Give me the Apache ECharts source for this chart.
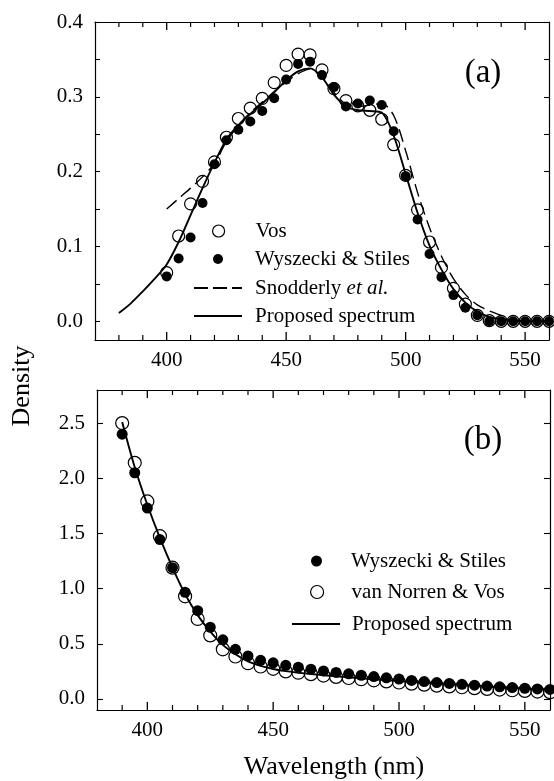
<!DOCTYPE html>
<html>
<head>
<meta charset="utf-8">
<script src="https://cdn.jsdelivr.net/npm/echarts@6/dist/echarts.min.js"></script>
<style>
  html, body { margin: 0; padding: 0; background: #fff; }
  #chart { width: 554px; height: 781px; }
</style>
</head>
<body>
<div id="chart"></div>
<script>
// ---------- Panel (a): macular pigment density ----------
const wlA = [400, 405, 410, 415, 420, 425, 430, 435, 440, 445, 450, 455, 460, 465, 470, 475, 480,
             485, 490, 495, 500, 505, 510, 515, 520, 525, 530, 535, 540, 545, 550, 555, 560];
const vosA = [0.065, 0.114, 0.157, 0.187, 0.213, 0.246, 0.271, 0.285, 0.298, 0.319, 0.342, 0.357, 0.356,
              0.336, 0.311, 0.295, 0.288, 0.282, 0.270, 0.236, 0.195, 0.149, 0.106, 0.072, 0.044, 0.023,
              0.008, 0.001, 0.000, 0.000, 0.000, 0.000, 0.000];
const wsA = [0.060, 0.084, 0.112, 0.158, 0.210, 0.242, 0.256, 0.267, 0.281, 0.298, 0.323, 0.344, 0.347,
             0.329, 0.313, 0.287, 0.291, 0.295, 0.289, 0.254, 0.194, 0.136, 0.090, 0.059, 0.035, 0.018,
             0.008, 0.000, 0.000, 0.000, 0.000, 0.000, 0.000];
const snodWlA = [400, 405, 410, 415, 420, 425, 430, 435, 440, 445, 450, 455, 460, 465, 470, 475, 480,
                 485, 490, 495, 500, 505, 510, 515, 520, 525, 530, 535, 540];
const snodA = [0.150, 0.164, 0.178, 0.193, 0.211, 0.240, 0.262, 0.279, 0.293, 0.307, 0.320, 0.331, 0.337,
               0.327, 0.306, 0.290, 0.287, 0.289, 0.291, 0.275, 0.228, 0.172, 0.125, 0.087, 0.057, 0.036,
               0.022, 0.014, 0.008];
const propWlA = [380, 385, 390, 395, 400, 405, 410, 415, 420, 425, 430, 435, 440, 445, 450, 455, 460, 465,
                 470, 475, 480, 485, 490, 495, 500, 505, 510, 515, 520, 525, 530, 535, 540, 545, 550, 555, 560];
const propA = [0.011, 0.024, 0.040, 0.057, 0.076, 0.106, 0.142, 0.178, 0.212, 0.243, 0.262, 0.277, 0.291,
               0.306, 0.322, 0.334, 0.338, 0.326, 0.303, 0.287, 0.282, 0.281, 0.279, 0.248, 0.197, 0.145,
               0.101, 0.069, 0.043, 0.025, 0.013, 0.006, 0.003, 0.001, 0.000, 0.000, 0.000];

// ---------- Panel (b): lens density ----------
const wlB = [390, 395, 400, 405, 410, 415, 420, 425, 430, 435, 440, 445, 450, 455, 460, 465, 470, 475,
             480, 485, 490, 495, 500, 505, 510, 515, 520, 525, 530, 535, 540, 545, 550, 555, 560];
const wsB = [2.40, 2.05, 1.73, 1.445, 1.19, 0.967, 0.80, 0.65, 0.536, 0.45, 0.39, 0.35, 0.328, 0.305, 0.288,
             0.27, 0.254, 0.24, 0.228, 0.215, 0.203, 0.192, 0.181, 0.168, 0.158, 0.149, 0.141, 0.133, 0.125,
             0.117, 0.11, 0.103, 0.097, 0.091, 0.086];
const vnB = [2.50, 2.14, 1.79, 1.475, 1.19, 0.93, 0.725, 0.576, 0.45, 0.385, 0.324, 0.294, 0.273, 0.25, 0.238,
             0.225, 0.212, 0.20, 0.19, 0.179, 0.169, 0.159, 0.149, 0.139, 0.13, 0.121, 0.114, 0.106, 0.098,
             0.091, 0.085, 0.079, 0.073, 0.067, 0.062];
const propB = [2.51, 2.10, 1.76, 1.46, 1.19, 0.95, 0.76, 0.61, 0.49, 0.405, 0.34, 0.30, 0.272, 0.252, 0.238,
               0.226, 0.215, 0.205, 0.196, 0.187, 0.178, 0.17, 0.162, 0.154, 0.146, 0.139, 0.132, 0.125, 0.118,
               0.112, 0.106, 0.10, 0.094, 0.088, 0.083];

// ---------- Axis ranges and ticks ----------
const xRangeA = [370, 560];
const xRangeB = [380, 560];
const xMajorTicks = [400, 450, 500, 550];
const xMinorTicksA = [380, 390, 410, 420, 430, 440, 460, 470, 480, 490, 510, 520, 530, 540];
const xMinorTicksB = [390, 410, 420, 430, 440, 460, 470, 480, 490, 510, 520, 530, 540];
// y tick slots: evenly spaced steps from the bottom of each frame to its top
const ySlotsA = ['-0.025', '0.000', '0.025', '0.050', '0.075', '0.100', '0.125', '0.150', '0.175', '0.200',
                 '0.225', '0.250', '0.275', '0.300', '0.325', '0.350', '0.375', '0.400'];
const ySlotsB = ['-0.1', '0.0', '0.1', '0.2', '0.3', '0.4', '0.5', '0.6', '0.7', '0.8', '0.9', '1.0', '1.1',
                 '1.2', '1.3', '1.4', '1.5', '1.6', '1.7', '1.8', '1.9', '2.0', '2.1', '2.2', '2.3', '2.4',
                 '2.5', '2.6', '2.7', '2.8'];
const yTickStepA = 0.05, yLabelStepA = 0.1;
const yTickStepB = 0.5, yLabelStepB = 0.5;

const FONT = "'Liberation Serif', 'Times New Roman', serif";
const zip = (xs, ys) => xs.map((x, i) => [x, ys[i]]);
const isMultiple = (v, step) => Math.abs(v / step - Math.round(v / step)) < 1e-6;
const yRangeOf = slots => [Number(slots[0]), Number(slots[slots.length - 1])];

const lineOn = () => ({ show: true, onZero: false, lineStyle: { color: '#000', width: 1.2 } });
const tickStyle = w => ({ color: '#000', width: w });

// wavelength axis: frame line + labels (ticks are drawn by the tick series below)
function xFrameAxis(grid, range, position, withLabels) {
  return {
    type: 'value', gridIndex: grid, min: range[0], max: range[1], position: position,
    splitLine: { show: false },
    axisLine: lineOn(),
    axisTick: { show: false },
    axisLabel: withLabels
      ? { show: true, customValues: xMajorTicks, margin: 10, color: '#000', fontFamily: FONT, fontSize: 21 }
      : { show: false }
  };
}

function yTickAxis(grid, slots, position, tickStep, labelStep, withLabels, tickLen) {
  const isTick = (i, v) => Number(v) >= 0 && isMultiple(Number(v), tickStep);
  const isLabel = (i, v) => Number(v) >= 0 && isMultiple(Number(v), labelStep);
  return {
    type: 'category', gridIndex: grid, data: slots, boundaryGap: false, position: position,
    splitLine: { show: false },
    axisLine: lineOn(),
    axisTick: { show: true, inside: true, length: tickLen, interval: isTick, lineStyle: tickStyle(1.1) },
    axisLabel: withLabels
      ? { show: true, interval: isLabel, margin: 12, color: '#000', fontFamily: FONT, fontSize: 21,
          formatter: v => Number(v).toFixed(1) }
      : { show: false }
  };
}

// value axes carrying the data (invisible; the frame axes draw lines and labels)
const dataX = (grid, range) => ({ type: 'value', gridIndex: grid, min: range[0], max: range[1], show: false });
const dataY = (grid, slots) => ({ type: 'value', gridIndex: grid, min: yRangeOf(slots)[0],
                                  max: yRangeOf(slots)[1], show: false });
const unitY = grid => ({ type: 'value', gridIndex: grid, min: 0, max: 1, show: false });

// grids 0/1 hold the data; grids 2/3 cover the same frames and carry the wavelength labels
const frameA = { left: 95, top: 22, width: 454, height: 318 };
const frameB = { left: 97, top: 390, width: 453, height: 320 };

const xAxes = [
  dataX(0, xRangeA),                      // 0
  dataX(1, xRangeB),                      // 1
  xFrameAxis(2, xRangeA, 'bottom', true), // 2
  xFrameAxis(2, xRangeA, 'top', false),   // 3
  xFrameAxis(3, xRangeB, 'bottom', true), // 4
  xFrameAxis(3, xRangeB, 'top', false)    // 5
];
const yAxes = [
  dataY(0, ySlotsA),                                                   // 0
  yTickAxis(0, ySlotsA, 'left', yTickStepA, yLabelStepA, true, 5),     // 1
  yTickAxis(0, ySlotsA, 'right', yTickStepA, yLabelStepA, false, 5),   // 2
  dataY(1, ySlotsB),                                                   // 3
  yTickAxis(1, ySlotsB, 'left', yTickStepB, yLabelStepB, true, 6),     // 4
  yTickAxis(1, ySlotsB, 'right', yTickStepB, yLabelStepB, false, 6),   // 5
  unitY(2),                                                            // 6
  unitY(3)                                                             // 7
];

// inward wavelength ticks on the bottom and top edges, placed through the axis scale
function wavelengthTicks(xIdx, yIdx, ticks, yRange, len, width) {
  return {
    type: 'custom', xAxisIndex: xIdx, yAxisIndex: yIdx, silent: true, clip: false, z: 6,
    data: ticks.map(v => [v, yRange[0]]),
    encode: { x: 0, y: 1 },
    renderItem: (params, api) => {
      const v = api.value(0);
      const bottom = api.coord([v, yRange[0]]);
      const top = api.coord([v, yRange[1]]);
      return {
        type: 'group',
        children: [
          { type: 'rect', shape: { x: bottom[0] - width / 2, y: bottom[1] - len, width: width, height: len },
            style: { fill: '#000' } },
          { type: 'rect', shape: { x: top[0] - width / 2, y: top[1], width: width, height: len },
            style: { fill: '#000' } }
        ]
      };
    }
  };
}

const openStyle = { color: 'rgba(0,0,0,0)', borderColor: '#000', borderWidth: 1.2, opacity: 1 };
const filledStyle = { color: '#000', borderColor: '#000', borderWidth: 0, opacity: 1 };
const lineItem = { color: '#000', opacity: 1 };

const series = [
  // panel (a)
  { name: 'Snodderly et al.', type: 'line', xAxisIndex: 0, yAxisIndex: 0, data: zip(snodWlA, snodA),
    symbol: 'none', smooth: 0.3, itemStyle: lineItem, lineStyle: { color: '#000', width: 1.4, type: [13, 6] }, z: 3 },
  { name: 'Proposed spectrum', type: 'line', xAxisIndex: 0, yAxisIndex: 0, data: zip(propWlA, propA),
    symbol: 'none', smooth: 0.3, itemStyle: lineItem, lineStyle: { color: '#000', width: 1.9 }, z: 3 },
  { name: 'Vos', type: 'scatter', xAxisIndex: 0, yAxisIndex: 0, data: zip(wlA, vosA),
    symbol: 'circle', symbolSize: 12, itemStyle: openStyle, z: 4 },
  { name: 'Wyszecki & Stiles', type: 'scatter', xAxisIndex: 0, yAxisIndex: 0, data: zip(wlA, wsA),
    symbol: 'circle', symbolSize: 10, itemStyle: filledStyle, z: 5 },
  wavelengthTicks(0, 0, xMajorTicks, yRangeOf(ySlotsA), 8, 1.3),
  wavelengthTicks(0, 0, xMinorTicksA, yRangeOf(ySlotsA), 5, 1.2),
  // panel (b)
  { name: 'Proposed spectrum ', type: 'line', xAxisIndex: 1, yAxisIndex: 3, data: zip(wlB, propB),
    symbol: 'none', smooth: 0.3, itemStyle: lineItem, lineStyle: { color: '#000', width: 1.9 }, z: 3 },
  { name: 'van Norren & Vos', type: 'scatter', xAxisIndex: 1, yAxisIndex: 3, data: zip(wlB, vnB),
    symbol: 'circle', symbolSize: 13, itemStyle: openStyle, z: 4 },
  { name: 'Wyszecki & Stiles ', type: 'scatter', xAxisIndex: 1, yAxisIndex: 3, data: zip(wlB, wsB),
    symbol: 'circle', symbolSize: 11, itemStyle: filledStyle, z: 5 },
  wavelengthTicks(1, 3, xMajorTicks, yRangeOf(ySlotsB), 8, 1.3),
  wavelengthTicks(1, 3, xMinorTicksB, yRangeOf(ySlotsB), 5, 1.2)
];

// legend icons for the two line styles (drawn as filled bars)
const SOLID_ICON = 'path://M0,0h48v2h-48z';
const DASH_ICON = 'path://M0,0h14v2h-14z M19,0h14v2h-14z M38,0h10v2h-10z';
const legendOpen = { color: 'rgba(0,0,0,0)', borderColor: '#000', borderWidth: 1.2, opacity: 1 };
const legendFilled = { color: '#000', borderColor: '#000', borderWidth: 0, opacity: 1 };

// one legend block per row so each row can be placed on its own
function legendRow(name, left, centerY, w, h, padLeft, iconStyle, icon, extra) {
  return Object.assign({
    data: [icon ? { name: name, icon: icon } : { name: name, icon: 'circle' }],
    left: left, top: centerY - 12, orient: 'vertical', padding: 0,
    itemWidth: w, itemHeight: h, selectedMode: false,
    itemStyle: iconStyle,
    textStyle: { color: '#000', fontFamily: FONT, fontSize: 21, lineHeight: 24, padding: [0, 0, 0, padLeft] }
  }, extra || {});
}

const legends = [
  legendRow('Vos', 212, 231, 12, 12, 26, legendOpen),
  legendRow('Wyszecki & Stiles', 213, 259, 10, 10, 27, legendFilled),
  legendRow('Snodderly et al.', 194, 288, 48, 2, 8, legendFilled, DASH_ICON, {
    formatter: () => '{n|Snodderly }{i|et al.}',
    textStyle: { color: '#000', fontFamily: FONT, fontSize: 21, lineHeight: 24, padding: [0, 0, 0, 8],
      rich: { n: { fontFamily: FONT, fontSize: 21, color: '#000' },
              i: { fontFamily: FONT, fontSize: 21, color: '#000', fontStyle: 'italic' } } }
  }),
  legendRow('Proposed spectrum', 194, 316, 48, 2, 8, legendFilled, SOLID_ICON),
  legendRow('Wyszecki & Stiles ', 311, 561, 11, 11, 24, legendFilled),
  legendRow('van Norren & Vos', 310, 592, 13, 13, 23, legendOpen),
  legendRow('Proposed spectrum ', 292, 624, 48, 2, 7, legendFilled, SOLID_ICON)
];

const chart = echarts.init(document.getElementById('chart'), null, { renderer: 'canvas' });
chart.setOption({
  backgroundColor: '#fff',
  animation: false,
  grid: [frameA, frameB, Object.assign({}, frameA), Object.assign({}, frameB)],
  xAxis: xAxes,
  yAxis: yAxes,
  legend: legends,
  series: series,
  graphic: [
    { type: 'text', x: 483, y: 73, style: { text: '(a)', fontFamily: FONT, fontSize: 33, fill: '#000',
      textAlign: 'center', textVerticalAlign: 'middle' } },
    { type: 'text', x: 483, y: 440, style: { text: '(b)', fontFamily: FONT, fontSize: 33, fill: '#000',
      textAlign: 'center', textVerticalAlign: 'middle' } },
    { type: 'text', x: 22, y: 386, rotation: Math.PI / 2, style: { text: 'Density', fontFamily: FONT,
      fontSize: 26, fill: '#000', textAlign: 'center', textVerticalAlign: 'middle' } },
    { type: 'text', x: 334, y: 767, style: { text: 'Wavelength (nm)', fontFamily: FONT, fontSize: 26,
      fill: '#000', textAlign: 'center', textVerticalAlign: 'middle' } }
  ]
});
</script>
</body>
</html>
